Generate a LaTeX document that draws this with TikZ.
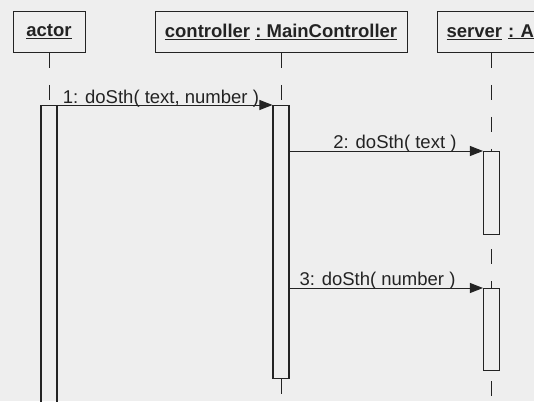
\documentclass[tikz,border=0pt]{standalone}
\usepackage{fontspec}
\setmainfont{Liberation Sans}
\usetikzlibrary{arrows.meta,calc,positioning}
\definecolor{paper}{RGB}{238,238,238}
\definecolor{ink}{RGB}{35,35,35}
\newcommand{\seqfont}{\fontsize{18.5}{22}\selectfont}
\tikzset{
  objbox/.style={
    rectangle, draw=ink, line width=0.9pt,
    minimum height=41pt, align=center, text=ink,
    font=\seqfont\bfseries, inner sep=0pt
  },
  actbox/.style={
    rectangle, draw=ink, line width=1.1pt,
    minimum width=16pt, inner sep=0pt, anchor=north
  },
  lifeline/.style={draw=ink, line width=1pt, dash pattern=on 15pt off 17pt},
  msgarrow/.style={-{Triangle[length=13pt,width=10pt]}, line width=1pt, draw=ink},
  msglabel/.style={font=\seqfont, text=ink, inner sep=0pt, anchor=base east, pos=1}
}

\begin{document}
\begin{tikzpicture}[x=1pt,y=-1pt]
  \useasboundingbox (0,0) rectangle (534,401);
  \fill[paper] (0,0) rectangle (534,401);
  \clip (0,0) rectangle (534,401);

  \node[objbox, minimum width=72pt] (actor) at (49,32)
    {\underline{actor}};
  \node[objbox, minimum width=252pt] (ctrl) at (281,32)
    {\underline{controller} \underline{:\ MainController}};
  \node[objbox, minimum width=108pt, text width=90pt, align=left] (srv) at (491.5,32)
    {\underline{server} \underline{:\ A}};

  \node[actbox, minimum height=310pt] (actA) at (49,105) {};
  \node[actbox, minimum height=273pt] (actC) at (281,105) {};
  \node[actbox, minimum height=83pt] (actS1) at (491.5,151) {};
  \node[actbox, minimum height=82pt] (actS2) at (491.5,288) {};
  \coordinate (endC) at (281,395);
  \coordinate (endS) at (491.5,405);

  \draw[lifeline] (actor.south) -- (actA.north);
  \draw[lifeline] (ctrl.south) -- (actC.north);
  \draw[lifeline] (actC.south) -- (endC);
  \draw[lifeline] (srv.south) -- (actS1.north);
  \draw[lifeline, dash phase=18pt] (actS1.south) -- (actS2.north);
  \draw[lifeline, dash phase=22pt] (actS2.south) -- (endS);

  \draw[msgarrow] (actA.north east) --
    node[msglabel, xshift=-13pt, yshift=2pt] {1: doSth( text, number )} (actC.north west);
  \draw[msgarrow] (actC.east |- actS1.north) --
    node[msglabel, xshift=-26pt, yshift=3pt] {2: doSth( text )} (actS1.north west);
  \draw[msgarrow] (actC.east |- actS2.north) --
    node[msglabel, xshift=-27pt, yshift=3pt] {3: doSth( number )} (actS2.north west);
\end{tikzpicture}
\end{document}
